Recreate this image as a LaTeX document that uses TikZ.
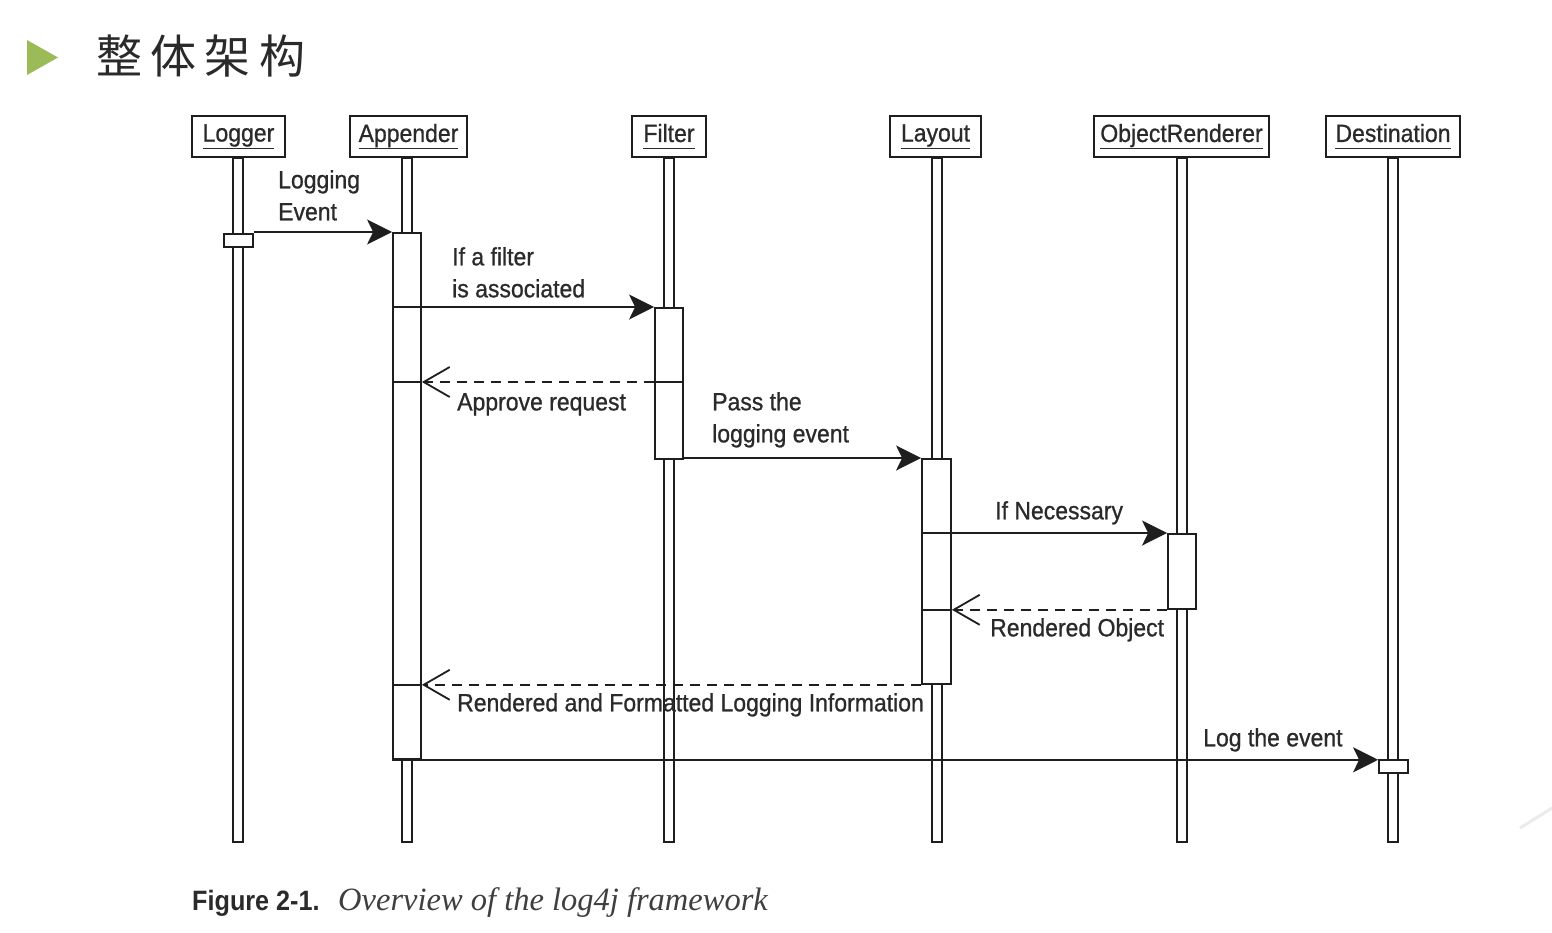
\documentclass[tikz,border=0pt]{standalone}
\usepackage{fontspec}
\setmainfont{Liberation Sans}[FakeStretch=0.92, FakeBold=0.8]
\newfontfamily\capbold{Liberation Sans Bold}[FakeStretch=0.9]
\newfontfamily\capserif{Liberation Serif}
\newfontfamily\cjk{Noto Sans CJK SC}[LetterSpace=18]
\usetikzlibrary{arrows.meta}
\definecolor{ink}{HTML}{1E1E1E}
\definecolor{txt}{HTML}{2A2A2A}
\definecolor{titlegreen}{HTML}{9BBB59}
\tikzset{
  hdr/.style={draw=ink, line width=1.6pt, minimum height=41pt, inner sep=0pt, fill=white,
              font=\fontsize{25}{30}\selectfont, text=txt},
  life/.style={draw=ink, line width=1.5pt, fill=white},
  act/.style={draw=ink, line width=1.8pt, fill=white, inner sep=0pt, anchor=north, minimum width=28pt},
  msg/.style={draw=ink, line width=2pt, -{Stealth[length=25pt,width=25pt,inset=6pt]}},
  ret/.style={draw=ink, line width=1.8pt, dash pattern=on 10pt off 7pt,
              -{Straight Barb[length=26pt,width=30pt,line width=1.8pt]}},
  cross/.style={draw=ink, line width=1.8pt},
  lbl/.style={font=\fontsize{25}{32}\selectfont, text=txt, align=left, inner sep=0pt, anchor=north west},
}
\newcommand{\hdrtext}[1]{\underline{#1\vphantom{gA}}}
\begin{document}
\begin{tikzpicture}[x=1pt,y=-1pt]
\useasboundingbox[fill=white] (0,0) rectangle (1552,932);

% title
\fill[titlegreen] (27,40) -- (58,57.5) -- (27,75) -- cycle;
\node[anchor=west, inner sep=0pt, text=txt, font=\cjk\fontsize{46}{50}\selectfont] (title) at (96,56) {整体架构};

% headers
\node[hdr, minimum width=93pt]  (logger) at (238.5,136.5) {\hdrtext{Logger}};
\node[hdr, minimum width=117pt] (appender) at (408.5,136.5) {\hdrtext{Appender}};
\node[hdr, minimum width=74pt]  (filter) at (669,136.5) {\hdrtext{Filter}};
\node[hdr, minimum width=91pt]  (layout) at (935.5,136.5) {\hdrtext{Layout}};
\node[hdr, minimum width=175pt] (renderer) at (1181.5,136.5) {\hdrtext{ObjectRenderer}};
\node[hdr, minimum width=134pt] (dest) at (1393,136.5) {\hdrtext{Destination}};

% lifelines
\coordinate (bottom) at (0,842);
\foreach \n/\x in {logger/238,appender/407,filter/669,layout/937,renderer/1182,dest/1393}{
  \draw[life] ([xshift=-5pt]\n.south -| \x,0) rectangle ([xshift=5pt]bottom -| \x,0);
}

% activation boxes
\node[act, minimum width=29pt, minimum height=13pt]  (aLog) at (238.5,233) {};
\node[act, minimum height=526pt] (aApp) at (407,232) {};
\node[act, minimum height=151pt] (aFil) at (669,307) {};
\node[act, minimum width=29pt, minimum height=225pt] (aLay) at (936.5,458) {};
\node[act, minimum height=75pt]  (aOR)  at (1182,533) {};
\node[act, minimum width=29pt, minimum height=13pt]  (aDst) at (1393.5,759) {};

% message rows
\coordinate (r3) at (0,382);

% messages
\draw[msg] (aLog.east |- aApp.north) -- (aApp.north west);
\draw[msg] (aApp.west |- aFil.north) -- (aFil.north west);
\draw[cross] (aFil.west |- r3) -- (aFil.east |- r3);
\draw[cross] (aApp.west |- r3) -- (aApp.east |- r3);
\draw[ret] (aFil.west |- r3) -- (aApp.east |- r3);
\draw[msg] (aFil.east |- aLay.north) -- (aLay.north west);
\draw[msg] (aLay.west |- aOR.north) -- (aOR.north west);
\draw[cross] (aLay.west |- aOR.south) -- (aLay.east |- aOR.south);
\draw[ret] (aOR.south west) -- (aLay.east |- aOR.south);
\draw[cross] (aApp.west |- aLay.south) -- (aApp.east |- aLay.south);
\draw[ret] (aLay.south west) -- (aApp.east |- aLay.south);
\draw[msg] (aApp.south west) -- (aDst.west |- aApp.south);

% labels
\node[lbl] (l1) at (278,170) {Logging\\Event};
\node[lbl] (l2) at (452,247) {If a filter\\is associated};
\node[lbl] (l3) at (457,393) {Approve request};
\node[lbl] (l4) at (712,392) {Pass the\\logging event};
\node[lbl] (l5) at (995,501) {If Necessary};
\node[lbl] (l6) at (990,618) {Rendered Object};
\node[lbl] (l7) at (457,693) {Rendered and Formatted Logging Information};
\node[lbl] (l8) at (1203,728) {Log the event};

% caption
\node[anchor=base west, inner sep=0pt, text=txt, font=\capbold\fontsize{28}{32}\selectfont] (cap1) at (192,910) {Figure 2-1.};
\node[anchor=base west, inner sep=0pt, text=txt!90, font=\capserif\itshape\fontsize{32.5}{34}\selectfont] (cap2) at (338,910) {Overview of the log4j framework};

% faint decoration
\draw[black!8, line width=3pt] (1520,828) -- (1552,808);
\end{tikzpicture}
\end{document}
